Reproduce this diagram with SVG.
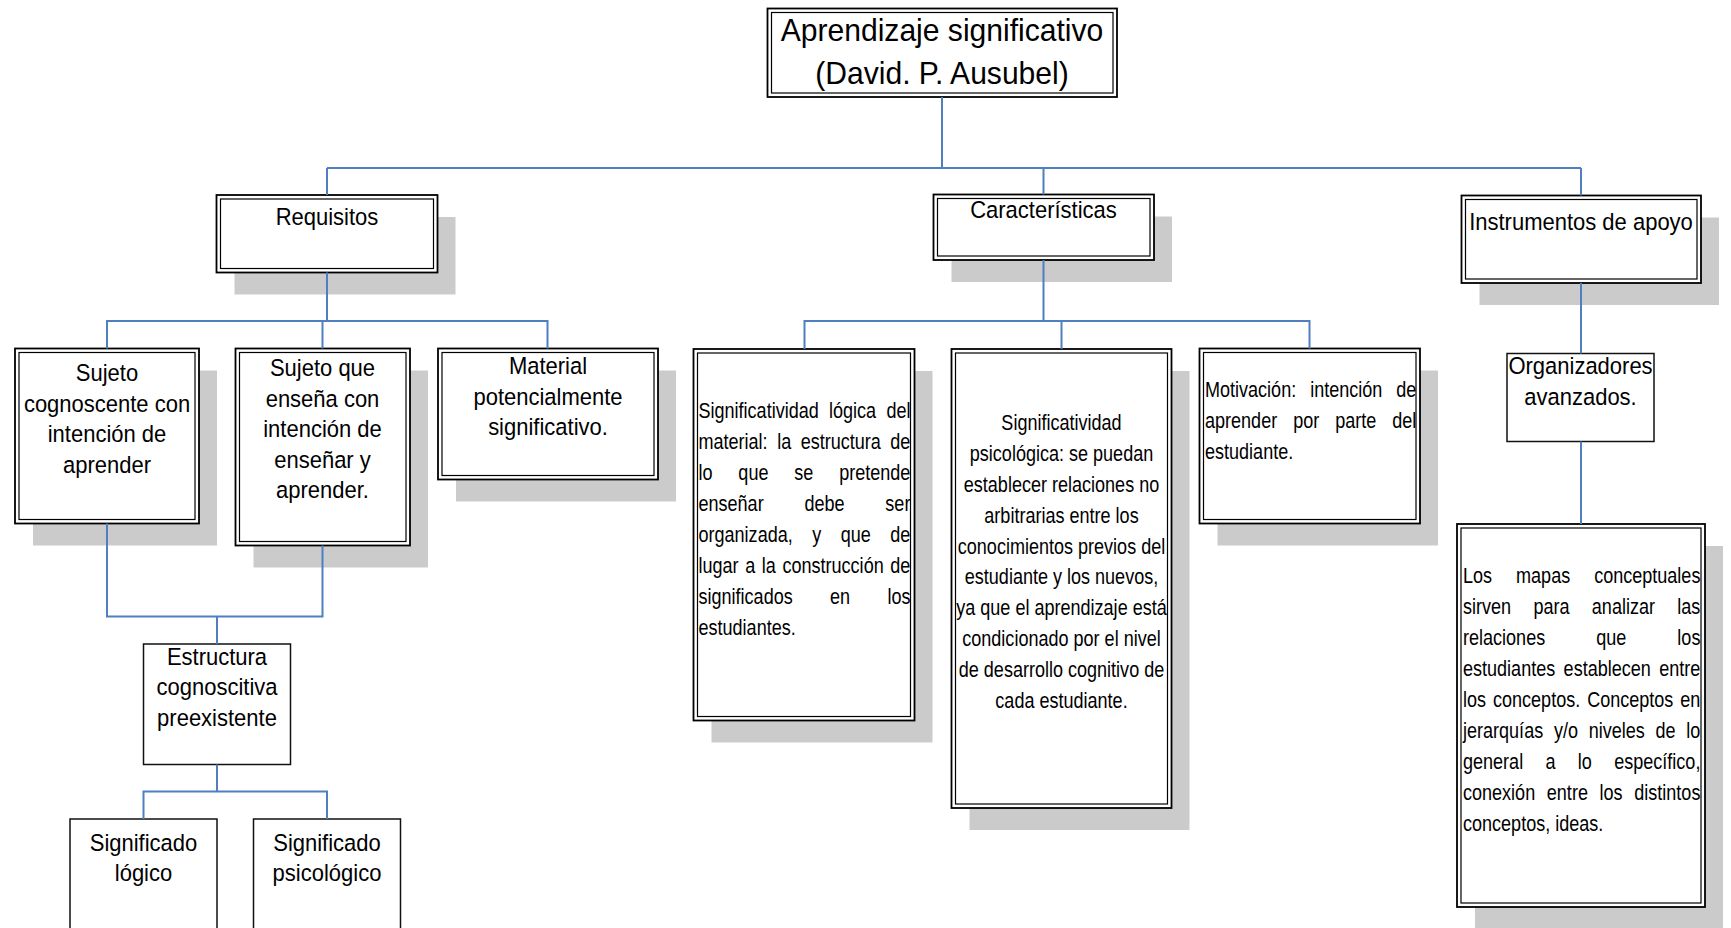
<svg xmlns="http://www.w3.org/2000/svg" width="1731" height="928" viewBox="0 0 1731 928">
<defs>
<style>
.o{fill:#fff;stroke:#000;stroke-width:1.8}
.i{fill:none;stroke:#000;stroke-width:1.2}
.s{fill:#cbcbcb}
.b{fill:#fff;stroke:#111;stroke-width:1.5}
.t{font-family:"Liberation Sans",Arial,sans-serif;font-size:23.5px;fill:#000;text-anchor:middle}
.h{font-size:32px}
.n{font-family:"Liberation Sans",Arial,sans-serif;font-size:23px;fill:#000}
.m{text-anchor:middle}
.k{fill:none;stroke:#4f7fbf;stroke-width:2}
</style>
</defs>
<rect width="1731" height="928" fill="#fff"/>

<g id="titulo">
<rect class="o" x="767.5" y="8.5" width="349.5" height="88.5"/>
<rect class="i" x="771.5" y="12.5" width="341.5" height="80.5"/>
<g transform="translate(942,0) scale(0.94,1)">
<text class="t h" x="0" y="41.3">Aprendizaje significativo</text>
<text class="t h" x="0" y="84.4">(David. P. Ausubel)</text>
</g>
</g>

<g id="requisitos">
<rect class="s" x="234.5" y="217" width="221" height="77.5"/>
<rect class="o" x="216.5" y="195" width="221" height="77.5"/>
<rect class="i" x="220.5" y="199" width="213" height="69.5"/>
<g transform="translate(327,0) scale(0.936,1)">
<text class="t" x="0" y="225.5">Requisitos</text>
</g>
</g>

<g id="caracteristicas">
<rect class="s" x="951.5" y="216.5" width="220.5" height="65.5"/>
<rect class="o" x="933.5" y="194.5" width="220.5" height="65.5"/>
<rect class="i" x="937.5" y="198.5" width="212.5" height="57.5"/>
<g transform="translate(1043.5,0) scale(0.936,1)">
<text class="t" x="0" y="218.5">Características</text>
</g>
</g>

<g id="instrumentos">
<rect class="s" x="1479.5" y="217.5" width="239.5" height="87.5"/>
<rect class="o" x="1461.5" y="195.5" width="239.5" height="87.5"/>
<rect class="i" x="1465.5" y="199.5" width="231.5" height="79.5"/>
<g transform="translate(1581,0) scale(0.936,1)">
<text class="t" x="0" y="230.5">Instrumentos de apoyo</text>
</g>
</g>

<g id="sujeto-cognoscente">
<rect class="s" x="33" y="370.5" width="184" height="175"/>
<rect class="o" x="15" y="348.5" width="184" height="175"/>
<rect class="i" x="19" y="352.5" width="176" height="167"/>
<g transform="translate(107,0) scale(0.936,1)">
<text class="t" x="0" y="381.5">Sujeto</text>
<text class="t" x="0" y="412">cognoscente con</text>
<text class="t" x="0" y="442.5">intención de</text>
<text class="t" x="0" y="473">aprender</text>
</g>
</g>

<g id="sujeto-ensena">
<rect class="s" x="253.5" y="370.5" width="174.5" height="197"/>
<rect class="o" x="235.5" y="348.5" width="174.5" height="197"/>
<rect class="i" x="239.5" y="352.5" width="166.5" height="189"/>
<g transform="translate(322.5,0) scale(0.936,1)">
<text class="t" x="0" y="376.5">Sujeto que</text>
<text class="t" x="0" y="407">enseña con</text>
<text class="t" x="0" y="437.5">intención de</text>
<text class="t" x="0" y="468">enseñar y</text>
<text class="t" x="0" y="498.5">aprender.</text>
</g>
</g>

<g id="material">
<rect class="s" x="456" y="370.5" width="220" height="131"/>
<rect class="o" x="438" y="348.5" width="220" height="131"/>
<rect class="i" x="442" y="352.5" width="212" height="123"/>
<g transform="translate(548,0) scale(0.936,1)">
<text class="t" x="0" y="374.5">Material</text>
<text class="t" x="0" y="405">potencialmente</text>
<text class="t" x="0" y="435.5">significativo.</text>
</g>
</g>

<g id="estructura">
<rect class="b" x="143.5" y="644" width="147" height="120.5"/>
<g transform="translate(217,0) scale(0.936,1)">
<text class="t" x="0" y="665">Estructura</text>
<text class="t" x="0" y="695.5">cognoscitiva</text>
<text class="t" x="0" y="726">preexistente</text>
</g>
</g>

<g id="significado-logico">
<rect class="b" x="70" y="819" width="147" height="130"/>
<g transform="translate(143.5,0) scale(0.936,1)">
<text class="t" x="0" y="851">Significado</text>
<text class="t" x="0" y="881.5">lógico</text>
</g>
</g>

<g id="significado-psicologico">
<rect class="b" x="253.5" y="819" width="147" height="130"/>
<g transform="translate(327,0) scale(0.936,1)">
<text class="t" x="0" y="851">Significado</text>
<text class="t" x="0" y="881.5">psicológico</text>
</g>
</g>

<g id="significatividad-logica">
<rect class="s" x="711.5" y="371" width="221" height="371.5"/>
<rect class="o" x="693.5" y="349" width="221" height="371.5"/>
<rect class="i" x="697.5" y="353" width="213" height="363.5"/>
<g transform="translate(698.5,0) scale(0.78435,1)">
<text class="n" x="0" y="418.5" style="word-spacing:6.69px">Significatividad lógica del</text>
<text class="n" x="0" y="449.4" style="word-spacing:5.72px">material: la estructura de</text>
<text class="n" x="0" y="480.3" style="word-spacing:26.55px">lo que se pretende</text>
<text class="n" x="0" y="511.2" style="word-spacing:45.63px">enseñar debe ser</text>
<text class="n" x="0" y="542.1" style="word-spacing:18.47px">organizada, y que de</text>
<text class="n" x="0" y="573" style="word-spacing:2.04px">lugar a la construcción de</text>
<text class="n" x="0" y="603.9" style="word-spacing:41.19px">significados en los</text>
<text class="n" x="0" y="634.8">estudiantes.</text>
</g>
</g>

<g id="significatividad-psicologica">
<rect class="s" x="969.5" y="371" width="220" height="459"/>
<rect class="o" x="951.5" y="349" width="220" height="459"/>
<rect class="i" x="955.5" y="353" width="212" height="451"/>
<g transform="translate(1061.5,0) scale(0.78435,1)">
<text class="n m" x="0" y="430">Significatividad</text>
<text class="n m" x="0" y="460.9">psicológica: se puedan</text>
<text class="n m" x="0" y="491.8">establecer relaciones no</text>
<text class="n m" x="0" y="522.7">arbitrarias entre los</text>
<text class="n m" x="0" y="553.6">conocimientos previos del</text>
<text class="n m" x="0" y="584.5">estudiante y los nuevos,</text>
<text class="n m" x="0" y="615.4">ya que el aprendizaje está</text>
<text class="n m" x="0" y="646.3">condicionado por el nivel</text>
<text class="n m" x="0" y="677.2">de desarrollo cognitivo de</text>
<text class="n m" x="0" y="708.1">cada estudiante.</text>
</g>
</g>

<g id="motivacion">
<rect class="s" x="1217.5" y="370.5" width="220.5" height="175"/>
<rect class="o" x="1199.5" y="348.5" width="220.5" height="175"/>
<rect class="i" x="1203.5" y="352.5" width="212.5" height="167"/>
<g transform="translate(1205,0) scale(0.78435,1)">
<text class="n" x="0" y="397" style="word-spacing:11.45px">Motivación: intención de</text>
<text class="n" x="0" y="427.9" style="word-spacing:14.01px">aprender por parte del</text>
<text class="n" x="0" y="458.8">estudiante.</text>
</g>
</g>

<g id="organizadores">
<rect class="b" x="1507" y="353.5" width="147" height="88"/>
<g transform="translate(1580.5,0) scale(0.936,1)">
<text class="t" x="0" y="374">Organizadores</text>
<text class="t" x="0" y="405">avanzados.</text>
</g>
</g>

<g id="mapas">
<rect class="s" x="1475" y="546" width="248" height="383"/>
<rect class="o" x="1457" y="524" width="248" height="383"/>
<rect class="i" x="1461" y="528" width="240" height="375"/>
<g transform="translate(1463,0) scale(0.78435,1)">
<text class="n" x="0" y="583.5" style="word-spacing:24.2px">Los mapas conceptuales</text>
<text class="n" x="0" y="614.4" style="word-spacing:22.09px">sirven para analizar las</text>
<text class="n" x="0" y="645.3" style="word-spacing:58.7px">relaciones que los</text>
<text class="n" x="0" y="676.2" style="word-spacing:4.34px">estudiantes establecen entre</text>
<text class="n" x="0" y="707.1" style="word-spacing:2.48px">los conceptos. Conceptos en</text>
<text class="n" x="0" y="738" style="word-spacing:7.3px">jerarquías y/o niveles de lo</text>
<text class="n" x="0" y="768.9" style="word-spacing:22.09px">general a lo específico,</text>
<text class="n" x="0" y="799.8" style="word-spacing:8.47px">conexión entre los distintos</text>
<text class="n" x="0" y="830.7">conceptos, ideas.</text>
</g>
</g>

<g id="connectors">
<path class="k" d="M942,97 V168 M327,168 H1581 M327,168 V195 M1043.5,168 V194.5 M1581,168 V195.5"/>
<path class="k" d="M327,272.5 V321 M107,348.5 V321 H547.5 V348.5 M322.5,321 V348.5"/>
<path class="k" d="M107,523.5 V616.5 H322.5 V545.5 M217,616.5 V644"/>
<path class="k" d="M217,764.5 V791.5 M143.5,819 V791.5 H327 V819"/>
<path class="k" d="M1043.5,260 V321 M804.5,349 V321 H1309.5 V348.5 M1061.5,321 V349"/>
<path class="k" d="M1581,283 V353.5 M1581,441.5 V524"/>
</g>
</svg>
